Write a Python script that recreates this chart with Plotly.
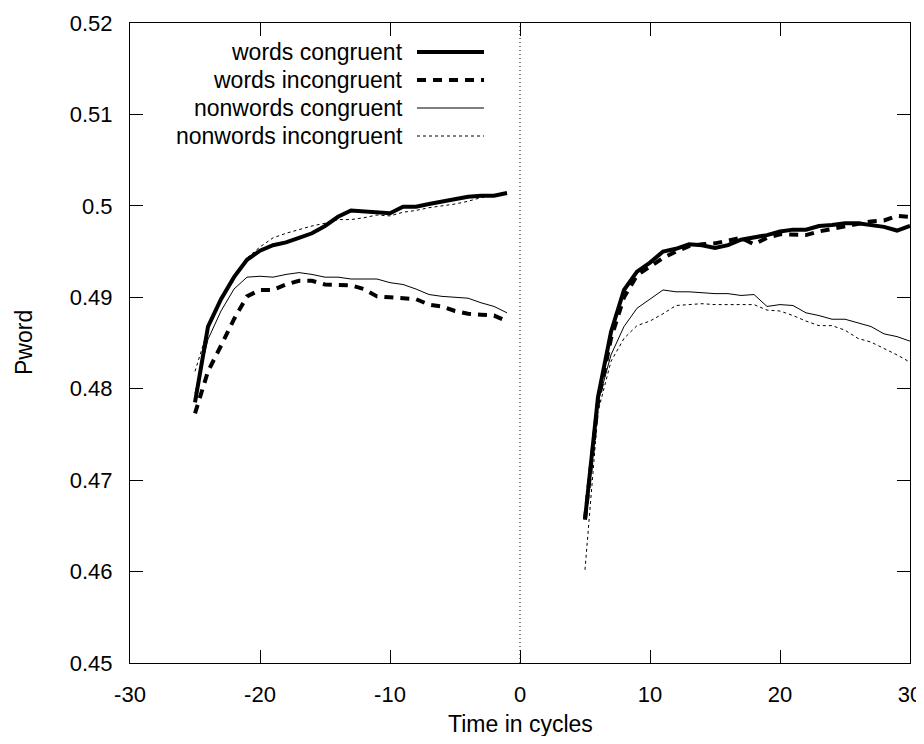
import plotly.graph_objects as go

# ---- data ----
x_left = list(range(-25, 0))
x_right = list(range(5, 31))

words_congruent_left = [0.4785, 0.4868, 0.4898, 0.4922, 0.4941, 0.4951, 0.4957, 0.4960, 0.4965, 0.4970,
                        0.4978, 0.4988, 0.4995, 0.4994, 0.4993, 0.4992, 0.4999, 0.4999, 0.5002, 0.5005,
                        0.5008, 0.5010, 0.5011, 0.5011, 0.5014]
words_incongruent_left = [0.4773, 0.4819, 0.4847, 0.4876, 0.4901, 0.4908, 0.4908, 0.4914, 0.4918, 0.4918,
                          0.4914, 0.4913, 0.4913, 0.4909, 0.4901, 0.4900, 0.4899, 0.4898, 0.4892, 0.4890,
                          0.4885, 0.4882, 0.4881, 0.4880, 0.4874]
nonwords_congruent_left = [0.4795, 0.4854, 0.4885, 0.4909, 0.4922, 0.4923, 0.4922, 0.4925, 0.4927, 0.4925,
                           0.4922, 0.4922, 0.4920, 0.4920, 0.4920, 0.4916, 0.4914, 0.4909, 0.4903, 0.4901,
                           0.4900, 0.4899, 0.4894, 0.4890, 0.4883]
nonwords_incongruent_left = [0.4819, 0.4865, 0.4898, 0.4923, 0.4943, 0.4955, 0.4965, 0.4970, 0.4974, 0.4978,
                             0.4981, 0.4985, 0.4985, 0.4987, 0.4990, 0.4989, 0.4993, 0.4995, 0.4998, 0.5000,
                             0.5002, 0.5005, 0.5009, 0.5011, 0.5015]

words_congruent_right = [0.4657, 0.4791, 0.4862, 0.4908, 0.4928, 0.4938, 0.4950, 0.4953, 0.4958, 0.4957,
                         0.4954, 0.4957, 0.4963, 0.4965, 0.4968, 0.4972, 0.4974, 0.4974, 0.4978, 0.4979,
                         0.4981, 0.4981, 0.4979, 0.4977, 0.4973, 0.4978]
words_incongruent_right = [0.4657, 0.4785, 0.4855, 0.4900, 0.4924, 0.4934, 0.4943, 0.4950, 0.4956, 0.4958,
                           0.4959, 0.4962, 0.4965, 0.4958, 0.4965, 0.4969, 0.4969, 0.4968, 0.4972, 0.4975,
                           0.4978, 0.4980, 0.4983, 0.4984, 0.4989, 0.4988]
nonwords_congruent_right = [0.4660, 0.4785, 0.4837, 0.4868, 0.4888, 0.4898, 0.4908, 0.4906, 0.4906, 0.4905,
                            0.4904, 0.4904, 0.4902, 0.4903, 0.4890, 0.4892, 0.4891, 0.4883, 0.4880, 0.4876,
                            0.4876, 0.4872, 0.4868, 0.4860, 0.4857, 0.4852]
nonwords_incongruent_right = [0.4602, 0.4775, 0.4830, 0.4855, 0.4869, 0.4874, 0.4882, 0.4891, 0.4892, 0.4893,
                              0.4892, 0.4892, 0.4892, 0.4892, 0.4886, 0.4885, 0.4880, 0.4874, 0.4869, 0.4869,
                              0.4864, 0.4855, 0.4851, 0.4844, 0.4837, 0.4829]

series_names = ["words congruent", "words incongruent", "nonwords congruent", "nonwords incongruent"]
x_ticks = [-30, -20, -10, 0, 10, 20, 30]
y_ticks = [0.45, 0.46, 0.47, 0.48, 0.49, 0.50, 0.51, 0.52]
y_tick_labels = ["0.45", "0.46", "0.47", "0.48", "0.49", "0.5", "0.51", "0.52"]

# ---- styles ----
styles = [
    dict(color="black", width=4, dash="solid"),
    dict(color="black", width=4, dash="9px,7px"),
    dict(color="black", width=1, dash="solid"),
    dict(color="black", width=1, dash="3px,3px"),
]
FONT = "Liberation Sans, Arial, sans-serif"
FS = 22
FS_TEXT = 23

fig = go.Figure()

left_data = [words_congruent_left, words_incongruent_left, nonwords_congruent_left, nonwords_incongruent_left]
right_data = [words_congruent_right, words_incongruent_right, nonwords_congruent_right, nonwords_incongruent_right]

for i in range(4):
    for xs, ys in ((x_left, left_data[i]), (x_right, right_data[i])):
        fig.add_trace(go.Scatter(x=xs, y=ys, mode="lines", line=styles[i],
                                 name=series_names[i], showlegend=False, hoverinfo="skip"))

# vertical dotted line at x = 0
fig.add_shape(type="line", xref="x", yref="paper", x0=0, x1=0, y0=0, y1=1,
              line=dict(color="black", width=1, dash="1px,3px"), layer="below")

# the page body keeps its default 8px margin: the figure sits 8px in from the
# window corner, so window pixels = figure pixels + 8.  Plot area in window pixels:
top_px, plot_h = 23, 640
left_px, plot_w = 130, 780
bottom_px = top_px + plot_h

# legend (gnuplot style: text right-aligned, sample on the right)
row_py = [52, 80, 108, 136]
for i, name in enumerate(series_names):
    yp = 1 - (row_py[i] - top_px) / plot_h
    fig.add_annotation(xref="paper", yref="paper", x=(405 - left_px) / plot_w, y=yp,
                       text=name, showarrow=False, xanchor="right", yanchor="middle",
                       font=dict(family=FONT, size=FS_TEXT, color="black"))
    fig.add_shape(type="line", xref="paper", yref="paper",
                  x0=(417 - left_px) / plot_w, x1=(484 - left_px) / plot_w, y0=yp, y1=yp,
                  line=styles[i])

# axis titles
fig.add_annotation(xref="paper", yref="paper", x=0.5, y=-(724 - bottom_px) / plot_h,
                   text="Time in cycles", showarrow=False, xanchor="center", yanchor="middle",
                   font=dict(family=FONT, size=FS_TEXT, color="black"))
fig.add_annotation(xref="paper", yref="paper", x=-(left_px - 24) / plot_w, y=0.5,
                   text="Pword", showarrow=False, xanchor="center", yanchor="middle", textangle=-90,
                   font=dict(family=FONT, size=FS_TEXT, color="black"))

axis_common = dict(showgrid=False, zeroline=False, showline=True, linecolor="black", linewidth=1,
                   mirror="allticks", ticks="inside", ticklen=13, tickwidth=1, tickcolor="black",
                   automargin=False, ticklabeloverflow="allow",
                   tickfont=dict(family=FONT, size=FS, color="black"))

fig.update_xaxes(range=[-30, 30], tickvals=x_ticks, ticktext=[str(v) for v in x_ticks],
                 ticklabelstandoff=12, **axis_common)
fig.update_yaxes(range=[0.45, 0.52], tickvals=y_ticks, ticktext=y_tick_labels,
                 ticklabelstandoff=12, **axis_common)

fig.update_layout(
    width=914, height=728,
    margin=dict(l=122, r=12, t=15, b=73),
    plot_bgcolor="white", paper_bgcolor="white",
    showlegend=False,
    font=dict(family=FONT, size=FS, color="black"),
)

fig.write_html("out.html")
